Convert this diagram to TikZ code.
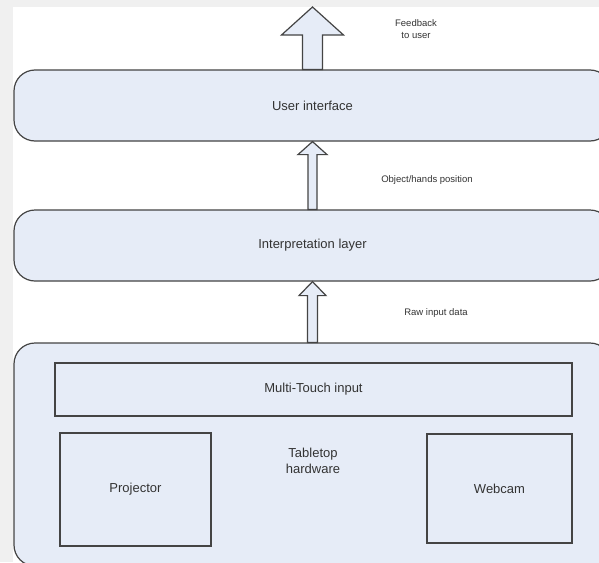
\documentclass[tikz,border=0pt]{standalone}
\usepackage{fontspec}
\setmainfont{Liberation Sans}
\usetikzlibrary{calc}

\definecolor{bgframe}{HTML}{F0F0F0}
\definecolor{boxfill}{HTML}{E6ECF7}
\definecolor{boxline}{HTML}{444444}
\definecolor{txt}{HTML}{333333}

\tikzset{
  layer/.style={draw=boxline, fill=boxfill, line width=1.2pt, rounded corners=21pt,
    inner sep=0pt, text=txt, font=\fontsize{13}{16}\selectfont},
  unit/.style={draw=boxline, fill=boxfill, line width=1.2pt,
    inner sep=0pt, text=txt, font=\fontsize{13}{16}\selectfont},
  maintext/.style={text=txt, align=center, inner sep=0pt, font=\fontsize{13}{16}\selectfont},
  note/.style={text=txt, align=center, inner sep=0pt, font=\fontsize{9.5}{12}\selectfont},
  arrowbody/.style={draw=boxline, fill=boxfill, line width=1.2pt, line join=miter},
}

% hollow block arrow: base, tip, shaft half width, head half width, head length
\newcommand\blockarrow[5]{%
  \draw[arrowbody] let \p1=(#1), \p2=(#2) in
    (\x1-#3pt,\y1) -- (\x1-#3pt,\y2-#5pt) -- (\x1-#4pt,\y2-#5pt) -- (\x1,\y2)
    -- (\x1+#4pt,\y2-#5pt) -- (\x1+#3pt,\y2-#5pt) -- (\x1+#3pt,\y1) -- cycle;}

\begin{document}
\begin{tikzpicture}[x=1pt, y=-1pt]
  \useasboundingbox (0,0) rectangle (599,562);
  \clip (0,0) rectangle (599,562);

  % frame
  \fill[bgframe] (0,0) rectangle (599,562);
  \fill[white] (13,7) rectangle (599,562);

  % layers
  \node[layer, minimum width=597pt, minimum height=71pt] (ui) at (312.5,105.5) {User interface};
  \node[layer, minimum width=597pt, minimum height=71pt] (interp) at (312.5,245.5) {Interpretation layer};
  \node[layer, minimum width=597pt, minimum height=223pt] (table) at (312.5,454.5) {};

  % tabletop parts
  \node[unit, minimum width=517pt, minimum height=53pt] (touch) at (313.5,389.5) {Multi-Touch input};
  \node[unit, minimum width=151pt, minimum height=113pt] (proj) at (135.5,489.5) {Projector};
  \node[unit, minimum width=145pt, minimum height=109pt] (cam) at (499.5,488.5) {Webcam};
  \node[maintext] (tabletxt) at (313,461) {Tabletop\\hardware};

  % data flow arrows
  \coordinate (fbtip) at (312.5,7);
  \blockarrow{ui.north}{fbtip}{10}{31}{28}
  \blockarrow{interp.north}{ui.south}{4.5}{14.5}{13}
  \blockarrow{table.north}{interp.south}{5}{13.5}{14}

  % flow labels
  \node[note] (fb) at (416,29) {Feedback\\to user};
  \node[note] (objpos) at (427,180) {Object/hands position};
  \node[note] (raw) at (436,313) {Raw input data};
\end{tikzpicture}
\end{document}
